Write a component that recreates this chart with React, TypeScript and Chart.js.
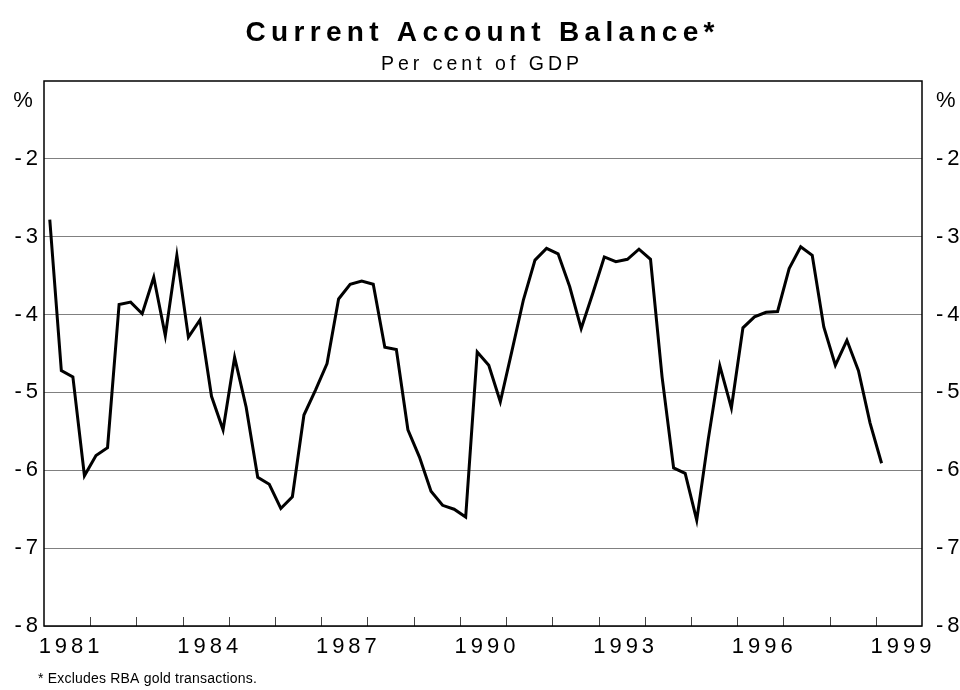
import React, { useEffect, useRef } from "react";
import { Chart, registerables } from "chart.js";

Chart.register(...registerables);

// ---------- data ----------
const TITLE = "Current Account Balance*";
const SUBTITLE = "Per cent of GDP";
const FOOTNOTE = "* Excludes RBA gold transactions.";
const UNIT = "%";

// quarterly series, first observation = 1981 Q1
const FIRST_YEAR = 1981;
const balance = [
  -2.78, -4.72, -4.8, -6.07, -5.81, -5.71, -3.87, -3.84, -3.99, -3.52,
  -4.27, -3.24, -4.29, -4.07, -5.05, -5.48, -4.55, -5.19, -6.09, -6.18,
  -6.49, -6.34, -5.29, -4.97, -4.63, -3.8, -3.61, -3.57, -3.61, -4.42,
  -4.45, -5.48, -5.83, -6.27, -6.45, -6.5, -6.6, -4.48, -4.65, -5.12,
  -4.47, -3.81, -3.3, -3.15, -3.22, -3.64, -4.18, -3.73, -3.26, -3.32,
  -3.29, -3.16, -3.29, -4.8, -5.97, -6.04, -6.64, -5.6, -4.66, -5.2,
  -4.17, -4.03, -3.97, -3.96, -3.41, -3.13, -3.24, -4.16, -4.65, -4.33,
  -4.72, -5.39, -5.91,
];

const X_MIN = 1981;
const X_MAX = 2000;
const Y_MIN = -8;
const Y_MAX = -1;
const yTickValues = [-2, -3, -4, -5, -6, -7, -8];
const yearLabels = [1981, 1984, 1987, 1990, 1993, 1996, 1999];

const FONT_FAMILY = '"Liberation Sans", Arial, Helvetica, sans-serif';
const TICK_SPACING = "4px";

const points = balance.map((v, i) => ({ x: FIRST_YEAR + (i + 0.5) / 4, y: v }));

const spacingPlugin = {
  id: "letterSpacing",
  beforeUpdate(chart: any) {
    chart.ctx.letterSpacing = TICK_SPACING;
  },
  beforeDraw(chart: any) {
    chart.ctx.letterSpacing = TICK_SPACING;
  },
};

const decorPlugin = {
  id: "decor",
  afterDraw(chart: any) {
    const ctx = chart.ctx as CanvasRenderingContext2D & { letterSpacing: string };
    const { left, right, top, bottom } = chart.chartArea;
    const xs = chart.scales.x;
    ctx.save();

    // inner tick marks on the x axis (one per year)
    ctx.strokeStyle = "#444";
    ctx.lineWidth = 1;
    ctx.beginPath();
    for (let yr = X_MIN + 1; yr < X_MAX; yr++) {
      const px = Math.round(xs.getPixelForValue(yr)) + 0.5;
      ctx.moveTo(px, bottom);
      ctx.lineTo(px, bottom - 9);
    }
    ctx.stroke();

    // frame
    ctx.strokeStyle = "#000";
    ctx.lineWidth = 1.5;
    ctx.strokeRect(left, top, right - left, bottom - top);

    ctx.fillStyle = "#000";
    ctx.textBaseline = "alphabetic";

    // title
    ctx.letterSpacing = "5.3px";
    ctx.font = `bold 28px ${FONT_FAMILY}`;
    ctx.textAlign = "center";
    ctx.fillText(TITLE, chart.width / 2 + 2.65, 41);

    // subtitle
    ctx.letterSpacing = "4px";
    ctx.font = `19.5px ${FONT_FAMILY}`;
    ctx.fillText(SUBTITLE, chart.width / 2 + 2, 70);

    // unit labels
    ctx.letterSpacing = "0px";
    ctx.font = `22px ${FONT_FAMILY}`;
    ctx.textAlign = "center";
    ctx.fillText(UNIT, 23, 107);
    ctx.textAlign = "left";
    ctx.fillText(UNIT, right + 14, 107);

    // footnote
    ctx.letterSpacing = "0.2px";
    ctx.font = `14px ${FONT_FAMILY}`;
    ctx.textAlign = "left";
    ctx.fillText(FOOTNOTE, 38, 683);

    ctx.restore();
  },
};

const tickFont = { family: FONT_FAMILY, size: 22 };

export default function App() {
  const canvasRef = useRef<HTMLCanvasElement | null>(null);

  useEffect(() => {
    if (!canvasRef.current) return;
    const chart = new Chart(canvasRef.current, {
      type: "line",
      data: {
        datasets: [
          {
            data: points,
            borderColor: "#000",
            borderWidth: 3,
            pointRadius: 0,
            tension: 0,
            fill: false,
            borderJoinStyle: "miter",
            borderCapStyle: "butt",
          },
        ],
      },
      options: {
        animation: false,
        responsive: true,
        maintainAspectRatio: false,
        layout: { padding: { top: 81, left: 0, right: 0, bottom: 0 } },
        plugins: {
          legend: { display: false },
          tooltip: { enabled: false },
          title: { display: false },
        },
        scales: {
          x: {
            type: "linear",
            min: X_MIN,
            max: X_MAX,
            grid: { display: false, drawTicks: false },
            border: { display: false },
            afterBuildTicks: (s: any) => {
              s.ticks = yearLabels.map((y) => ({ value: y + 0.5 }));
            },
            afterFit: (s: any) => {
              s.height = 64;
            },
            ticks: {
              autoSkip: false,
              maxRotation: 0,
              minRotation: 0,
              color: "#000",
              font: tickFont,
              padding: 8,
              labelOffset: 4,
              callback: (v: any) => String(Math.floor(Number(v))),
            },
          },
          y: {
            position: "left",
            min: Y_MIN,
            max: Y_MAX,
            afterBuildTicks: (s: any) => {
              s.ticks = yTickValues.map((v) => ({ value: v }));
            },
            afterFit: (s: any) => {
              s.width = 44;
            },
            grid: { color: "#808080", lineWidth: 1, drawTicks: false },
            border: { display: false },
            ticks: {
              color: "#000",
              font: tickFont,
              padding: 2,
              callback: (v: any) => String(v),
            },
          },
          y2: {
            position: "right",
            min: Y_MIN,
            max: Y_MAX,
            afterBuildTicks: (s: any) => {
              s.ticks = yTickValues.map((v) => ({ value: v }));
            },
            afterFit: (s: any) => {
              s.width = 38;
            },
            grid: { display: false, drawTicks: false },
            border: { display: false },
            ticks: {
              color: "#000",
              font: tickFont,
              padding: 14,
              callback: (v: any) => String(v),
            },
          },
        },
      },
      plugins: [spacingPlugin, decorPlugin],
    } as any);
    return () => chart.destroy();
  }, []);

  return (
    <div style={{ position: "absolute", left: 0, top: 0, width: 960, height: 690, background: "#fff" }}>
      <canvas ref={canvasRef} />
    </div>
  );
}
